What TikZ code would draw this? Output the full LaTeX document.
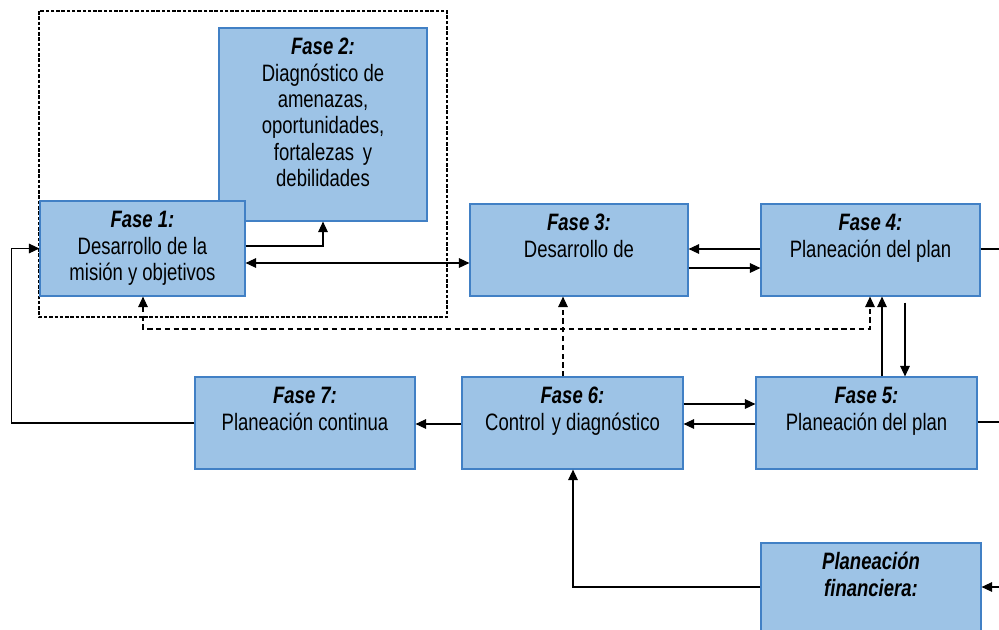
\documentclass[tikz,border=0pt]{standalone}
\usepackage{fontspec}
\setmainfont{Liberation Sans}[FakeStretch=0.78]
\usetikzlibrary{arrows.meta}
\definecolor{relleno}{RGB}{157,195,230}
\definecolor{borde}{RGB}{65,128,197}
\newcommand{\caja}[4]{\parbox[c][#2][t]{#1}{\centering\rule{0pt}{15.3pt}\textbf{\textit{#3}}\\#4}}
\begin{document}
\begin{tikzpicture}[x=0.02cm, y=-0.02cm,
		fase/.style={draw=borde, fill=relleno, line width=0.7pt, inner sep=0pt, font=\fontsize{13.5}{15}\selectfont},
		linea/.style={line width=0.6pt},
		flecha/.style={-{Triangle[length=6pt, width=5.5pt]}, line width=0.6pt},
		doble/.style={{Triangle[length=6pt, width=5.5pt]}-{Triangle[length=6pt, width=5.5pt]}, line width=0.6pt},
		punteada/.style={dash pattern=on 3pt off 2pt}]
			\useasboundingbox (0,0) rectangle (999,629);
			\clip (0,0) rectangle (999,629);
%			\draw[help lines, step=100] (0,0) grid (999,629);
			\draw[line width=0.6pt, dash pattern=on 2pt off 1pt] (39,11) rectangle (447,317);
			\node[fase] (f2) at (323, 124.5) {\caja{4.16cm}{3.86cm}{Fase 2:}{Diagn\'ostico de\\amenazas,\\oportunidades,\\fortalezas\hspace{5pt}y\\debilidades}};
			\node[fase] (f1) at (142.5, 248.5) {\caja{4.1cm}{1.9cm}{Fase 1:}{Desarrollo de la\\misi\'on y objetivos}};
			\node[fase] (f3) at (579, 250) {\caja{4.36cm}{1.84cm}{Fase 3:}{Desarrollo de}};
			\node[fase] (f4) at (870.5, 250) {\caja{4.38cm}{1.84cm}{Fase 4:}{Planeaci\'on del plan}};
			\node[fase] (f7) at (305, 423) {\caja{4.4cm}{1.84cm}{Fase 7:}{Planeaci\'on continua}};
			\node[fase] (f6) at (572.5, 423) {\caja{4.42cm}{1.84cm}{Fase 6:}{Control\hspace{4pt}y diagn\'ostico}};
			\node[fase] (f5) at (866.5, 423) {\caja{4.42cm}{1.84cm}{Fase 5:}{Planeaci\'on del plan}};
			\node[fase] (fin) at (871, 589.5) {\parbox[c][1.86cm][t]{4.4cm}{\centering\rule{0pt}{15.3pt}\textbf{\textit{Planeaci\'on}}\\\textbf{\textit{financiera:}}}};
			\coordinate (sal4) at (1005, 249);
			\coordinate (sal5) at (1005, 422);
			\coordinate (ent) at (1005, 587);
			\draw[flecha] (f1.east |- 0,246) -| (f2.south);
			\draw[doble] (f1.east |- 0,263) -- (f3.west |- 0,263);
			\draw[flecha] (f7.west) -- ++(-183,0) |- (f1.west);
			\draw[flecha] (f4.west |- 0,249) -- (f3.east |- 0,249);
			\draw[flecha] (f3.east |- 0,268) -- (f4.west |- 0,268);
			\draw[linea] (f4.east |- sal4) -- (sal4);
			\draw[linea] (f5.east |- sal5) -- (sal5);
			\draw[flecha] (ent) -- (fin.east |- ent);
			\draw[flecha] (f6.east |- 0,404) -- (f5.west |- 0,404);
			\draw[flecha] (f5.west |- 0,424) -- (f6.east |- 0,424);
			\draw[flecha] (f6.west |- 0,424) -- (f7.east |- 0,424);
			\draw[flecha] ([yshift=-0.12cm]f4.south -| 905,0) -- (f5.north -| 905,0);
			\draw[flecha] (f5.north -| 882,0) -- (f4.south -| 882,0);
			\draw[flecha, punteada] (f6.north -| 563,0) -- (f3.south -| 563,0);
			\draw[doble, punteada] (f1.south -| 143,0) -- (143,329) -| (f4.south -| 870,0);
			\draw[flecha] (fin.west |- 0,587) -| (f6.south -| 573,0);
		\end{tikzpicture}
\end{document}
